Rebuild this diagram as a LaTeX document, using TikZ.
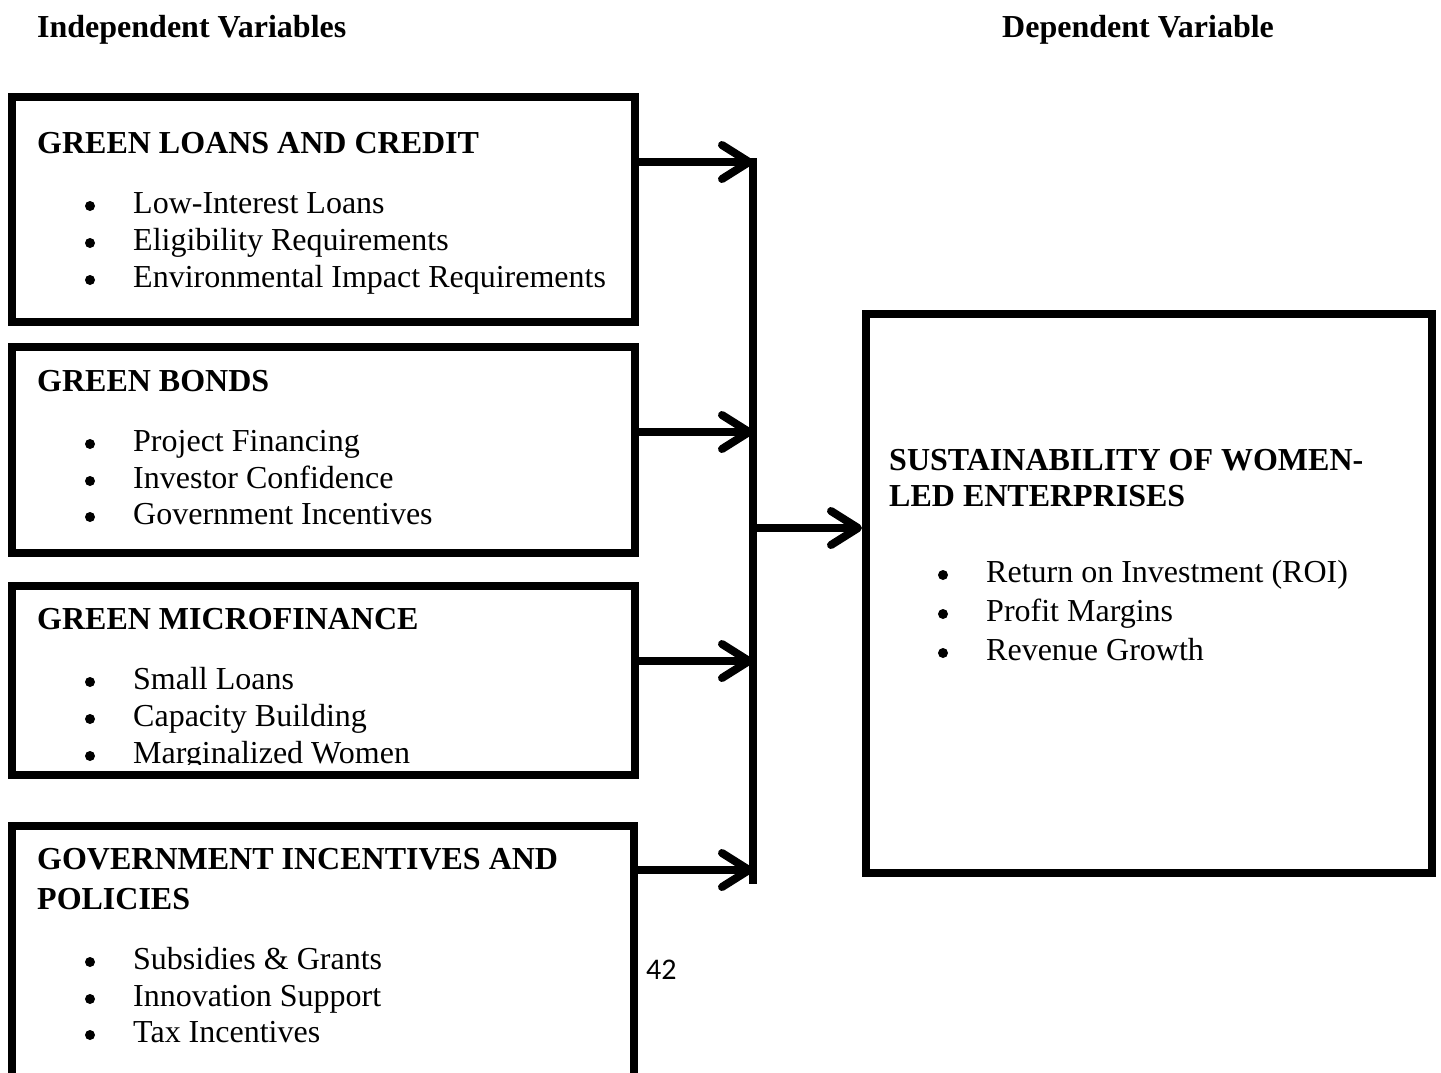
\documentclass[tikz,border=0pt]{standalone}
\usepackage{fontspec}
\setmainfont{Liberation Serif}
\newfontfamily\calibrifont{Carlito}
\usetikzlibrary{arrows.meta}
\begin{document}
\begin{tikzpicture}[x=1pt,y=-1pt,
  box/.style={draw,line width=8pt,rectangle,inner sep=0pt,outer sep=4pt,anchor=north west},
  hd/.style={font=\fontsize{32pt}{40pt}\selectfont\bfseries,inner sep=0pt,anchor=base west},
  itm/.style={font=\fontsize{32pt}{37pt}\selectfont,inner sep=0pt,anchor=base west},
  dot/.style={fill=black},
  conn/.style={line width=8pt,-{Straight Barb[length=27pt,width=34pt,round]}},
  bar/.style={line width=8pt}]
\useasboundingbox (0,0) rectangle (1441,1073);
\clip (0,0) rectangle (1441,1073);
\newcommand\bulletitem[4]{\fill[dot] ({#2+6},{#3-7}) circle (5pt);
  \node[itm] (#1) at ({#2+49},#3) {#4};}
% titles
\node[hd] (tind) at (37,38) {Independent Variables};
\node[hd] (tdep) at (1002,38) {Dependent Variable};
% boxes
\node[box,minimum width=623pt,minimum height=225pt] (b1) at (8,93) {};
\node[box,minimum width=623pt,minimum height=206pt] (b2) at (8,343) {};
\node[box,minimum width=623pt,minimum height=189pt] (b3) at (8,582) {};
\node[box,minimum width=622pt,minimum height=320pt] (b4) at (8,822) {};
\node[box,minimum width=566pt,minimum height=559pt] (rb) at (862,310) {};
% box 1
\node[hd] (h1) at (37,153) {GREEN LOANS AND CREDIT};
\bulletitem{i11}{84}{213}{Low-Interest Loans}
\bulletitem{i12}{84}{250}{Eligibility Requirements}
\bulletitem{i13}{84}{287}{Environmental Impact Requirements}
% box 2
\node[hd] (h2) at (37,391) {GREEN BONDS};
\bulletitem{i21}{84}{451}{Project Financing}
\bulletitem{i22}{84}{488}{Investor Confidence}
\bulletitem{i23}{84}{524}{Government Incentives}
% box 3
\node[hd] (h3) at (37,629) {GREEN MICROFINANCE};
\bulletitem{i31}{84}{689}{Small Loans}
\bulletitem{i32}{84}{726}{Capacity Building}
\begin{scope}
\clip (0,0) rectangle (1441,764);
\bulletitem{i33}{84}{763}{Marginalized Women}
\end{scope}
% box 4
\node[hd] (h4a) at (37,869) {GOVERNMENT INCENTIVES AND};
\node[hd] (h4b) at (37,909) {POLICIES};
\bulletitem{i41}{84}{969}{Subsidies \& Grants}
\bulletitem{i42}{84}{1006}{Innovation Support}
\bulletitem{i43}{84}{1042}{Tax Incentives}
% right box
\node[hd] (hr1) at (889,470) {SUSTAINABILITY OF WOMEN-};
\node[hd] (hr2) at (889,506) {LED ENTERPRISES};
\bulletitem{ir1}{937}{582}{Return on Investment (ROI)}
\bulletitem{ir2}{937}{621}{Profit Margins}
\bulletitem{ir3}{937}{660}{Revenue Growth}
% page number
\node[font=\calibrifont\fontsize{30pt}{34pt}\selectfont,inner sep=0pt,anchor=base west] (pg) at (646,979) {42};
% connectors
\coordinate (j1) at (753,162);
\coordinate (j2) at (753,432);
\coordinate (j3) at (753,661);
\coordinate (j4) at (753,870);
\coordinate (jm) at (753,528);
\coordinate (jtop) at (753,158);
\coordinate (jbot) at (753,884);
\draw[bar] (jtop) -- (jbot);
\draw[conn] (b1.east |- j1) -- (j1);
\draw[conn] (b2.east |- j2) -- (j2);
\draw[conn] (b3.east |- j3) -- (j3);
\draw[conn] (b4.east |- j4) -- (j4);
\draw[conn] (jm) -- (rb.west |- jm);
\end{tikzpicture}
\end{document}
